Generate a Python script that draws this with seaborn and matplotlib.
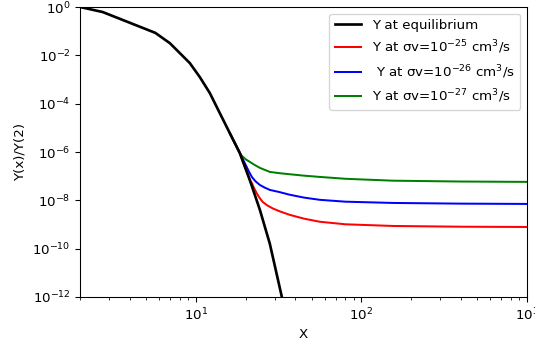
import matplotlib
matplotlib.use("Agg")
import matplotlib.pyplot as plt
import matplotlib.ticker as mticker
import seaborn as sns
import pandas as pd

# values
x_eq = [2.0, 2.74, 5.7, 6.97, 8.0, 9.2, 10.57, 12.15, 13.96, 16.04, 18.44, 21.2, 24.4, 28.0, 33.1, 40.0]
y_eq = [1.0, 0.62, 0.085, 0.032, 0.0125, 4.8e-3, 1.27e-3, 2.77e-4, 4.1e-5, 6.1e-6, 9.1e-7,
        6.9e-8, 4e-9, 1.6e-10, 1e-12, 1.1e-14]

x_27 = [16.04, 18.44, 18.97, 20.0, 21.2, 22.7, 24.4, 28.0, 32.0, 37.0, 45.0, 56.1, 80.0, 155.0, 400.0, 1000.0]
y_27 = [6.1e-6, 9.1e-7, 7.0e-7, 5.0e-7, 3.9e-7, 2.9e-7, 2.2e-7, 1.5e-7, 1.33e-7, 1.2e-7, 1.05e-7,
        9.3e-8, 7.8e-8, 6.5e-8, 6.0e-8, 5.8e-8]

x_26 = [16.04, 18.44, 20.3, 21.0, 21.8, 22.9, 24.4, 26.0, 28.0, 32.0, 37.0, 45.0, 56.1, 80.0, 155.0, 400.0, 1000.0]
y_26 = [6.1e-6, 9.1e-7, 2.4e-7, 1.5e-7, 9.3e-8, 6.2e-8, 4.3e-8, 3.4e-8, 2.7e-8, 2.2e-8, 1.7e-8,
        1.3e-8, 1.05e-8, 8.8e-9, 7.8e-9, 7.3e-9, 7.1e-9]

x_25 = [16.04, 18.44, 21.2, 21.8, 22.5, 23.3, 24.3, 25.4, 27.0, 29.2, 32.5, 37.0, 45.0, 56.1, 80.0, 155.0, 400.0, 1000.0]
y_25 = [6.1e-6, 9.1e-7, 6.9e-8, 5.2e-8, 3.2e-8, 2.0e-8, 1.25e-8, 8.5e-9, 6.2e-9, 4.6e-9, 3.4e-9,
        2.5e-9, 1.75e-9, 1.3e-9, 1.02e-9, 8.7e-10, 8.1e-10, 7.9e-10]

series = [
    (x_eq, y_eq, "k", "Y at equilibrium", 2.0, 3),
    (x_25, y_25, "r", r"Y at σv=$10^{-25}$ cm$^3$/s", 1.5, 2),
    (x_26, y_26, "b", r" Y at σv=$10^{-26}$ cm$^3$/s", 1.5, 2),
    (x_27, y_27, "g", r"Y at σv=$10^{-27}$ cm$^3$/s", 1.5, 2),
]

DPI = 96
fig = plt.figure(figsize=(535 / DPI, 346 / DPI), dpi=DPI)
ax = fig.add_axes([80 / 535, 49 / 346, 447 / 535, 290 / 346])
ax.set_xscale("log")
ax.set_yscale("log")

for xs, ys, color, label, lw, z in series:
    df = pd.DataFrame({"x": xs, "y": ys})
    sns.lineplot(data=df, x="x", y="y", color=color, label=label, lw=lw,
                 zorder=z, ax=ax, estimator=None, sort=False)

ax.set_xlim(2, 1000)
ax.set_ylim(1e-12, 1)
ax.yaxis.set_major_locator(mticker.FixedLocator([10.0 ** -k for k in range(0, 13, 2)]))
ax.yaxis.set_major_formatter(mticker.LogFormatterSciNotation())
ax.yaxis.set_minor_locator(mticker.NullLocator())
ax.set_xlabel("X")
ax.set_ylabel("Y(x)/Y(2)")
ax.legend(loc="upper right")

fig.savefig("out.png", dpi=DPI)
